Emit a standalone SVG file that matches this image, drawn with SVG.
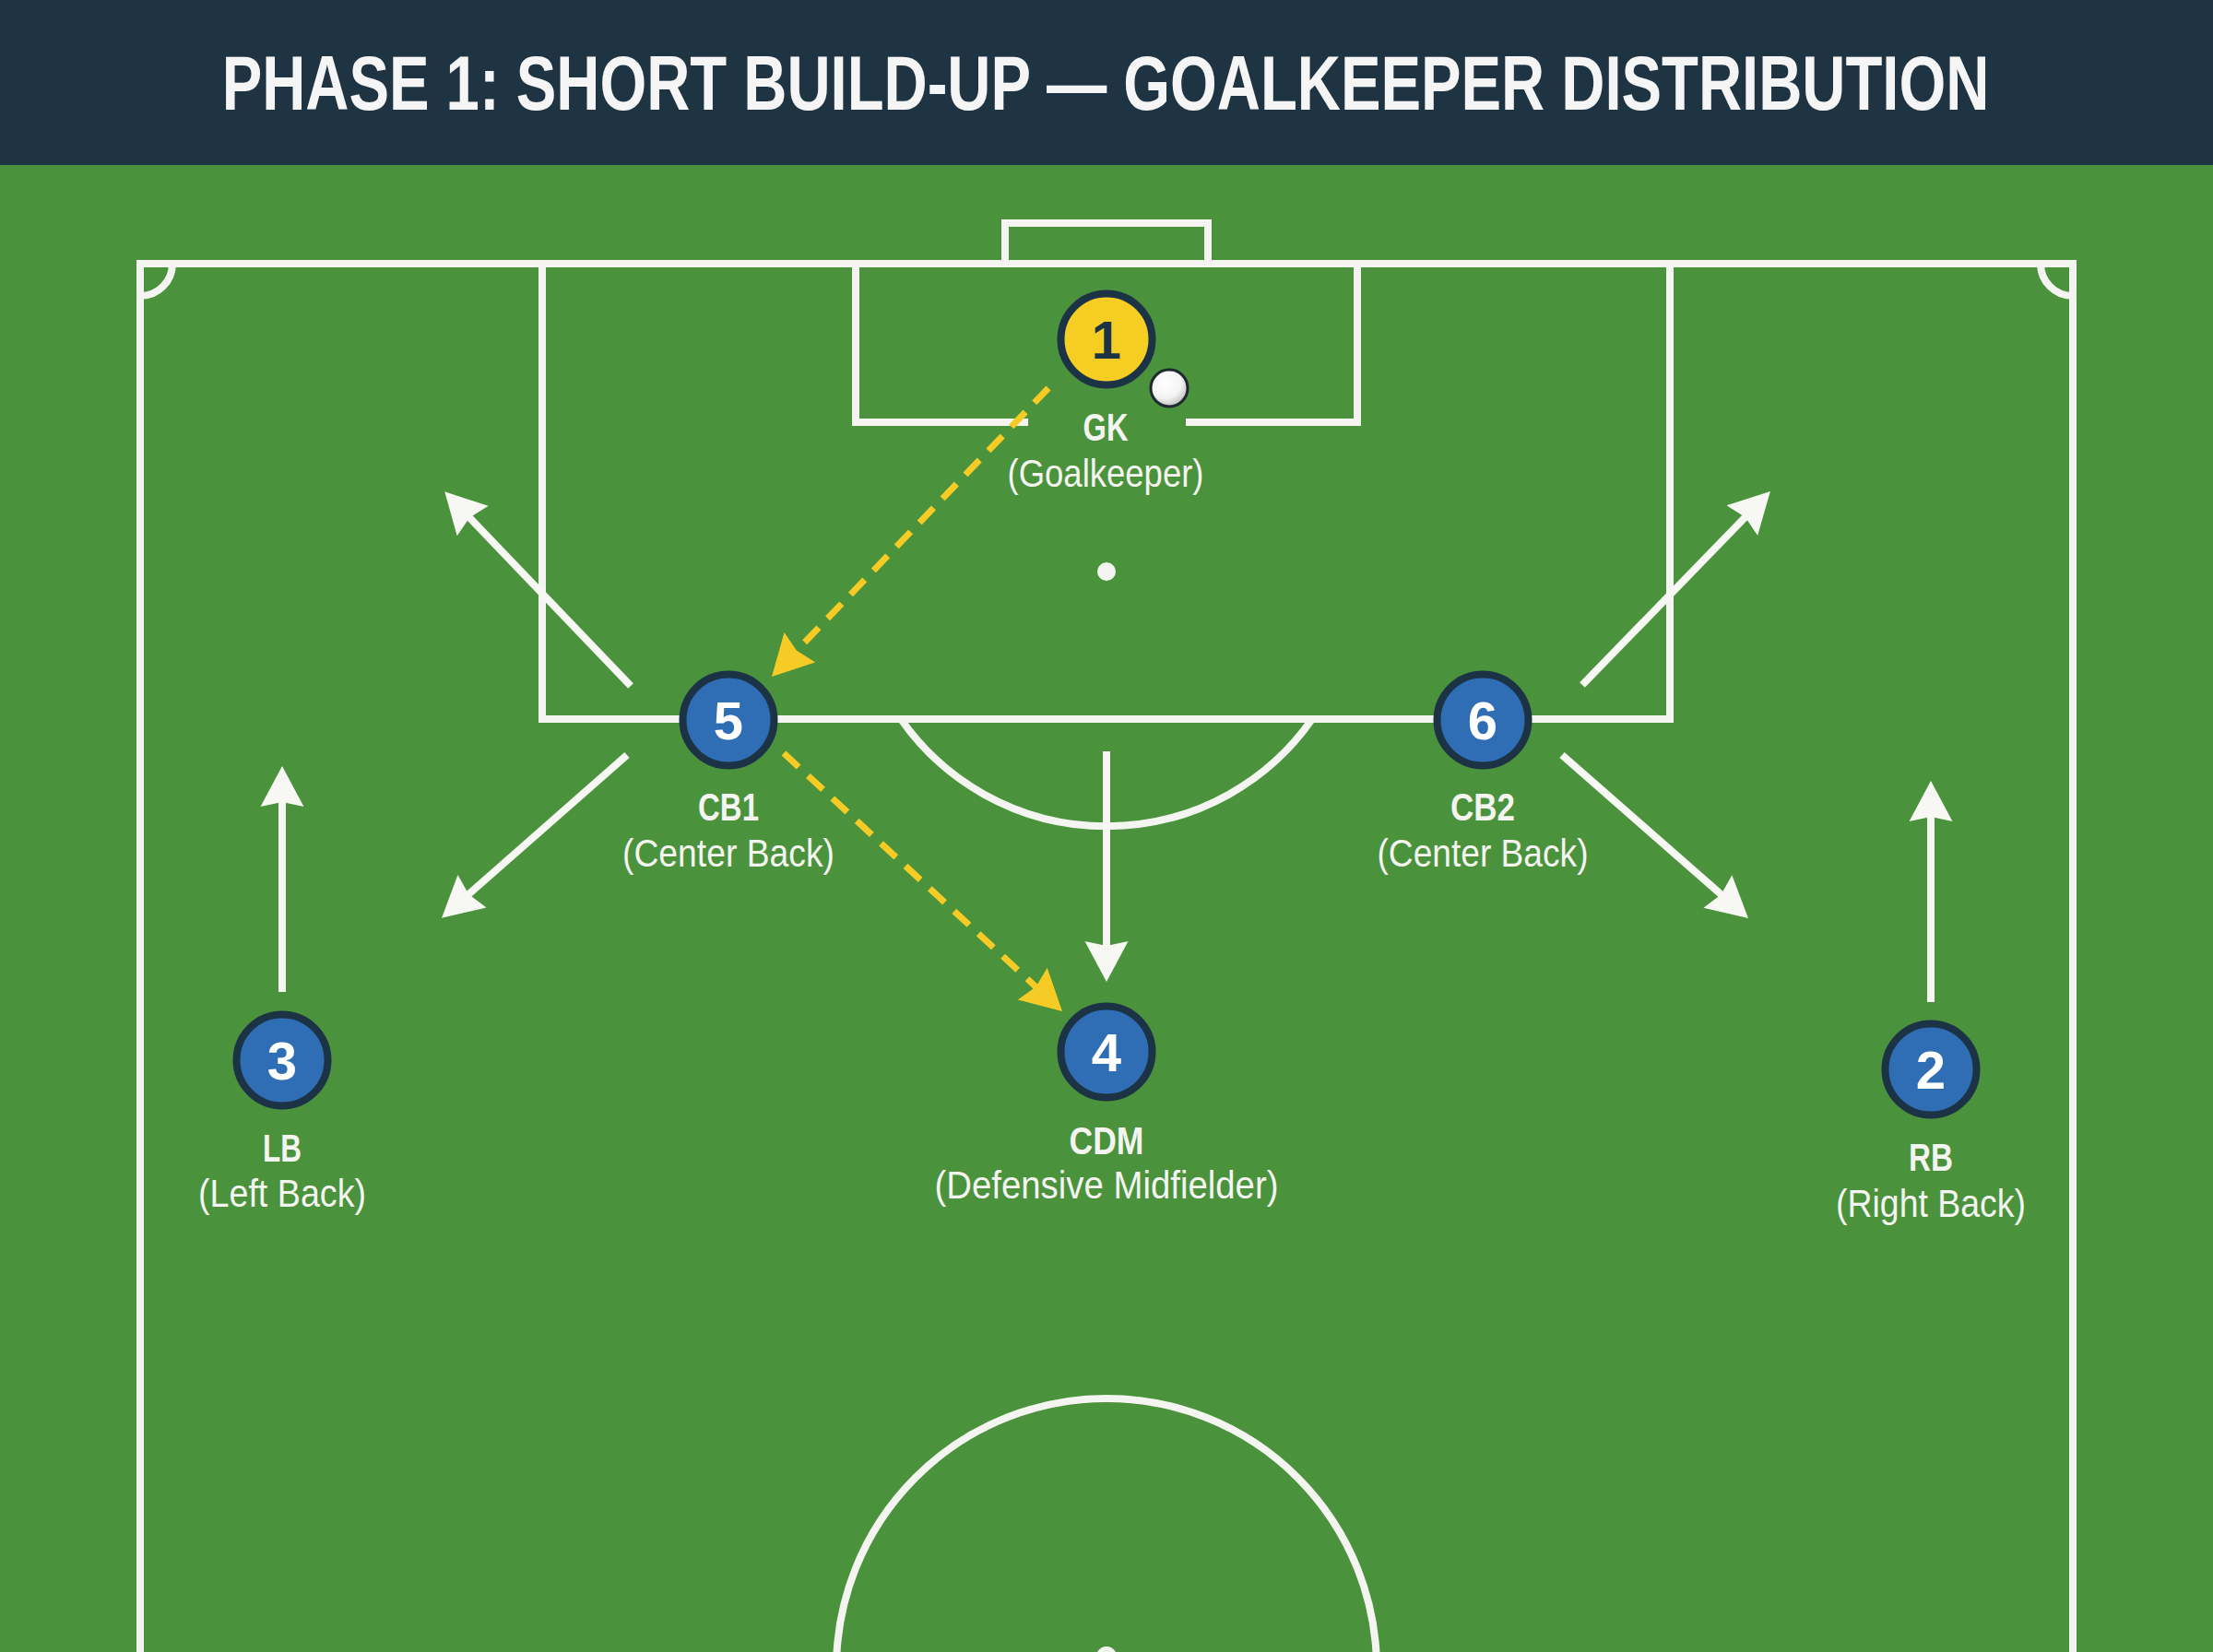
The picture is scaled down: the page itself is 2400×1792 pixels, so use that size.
<svg xmlns="http://www.w3.org/2000/svg" width="2400" height="1792" viewBox="0 0 2400 1792">
  <defs>
    <style>
      .line { fill: none; stroke: #f4f5f0; stroke-width: 8; }
      .move { fill: none; stroke: #f7f7f4; stroke-width: 8; marker-end: url(#headW); }
      .pass { fill: none; stroke: #f6cb25; stroke-width: 7; stroke-dasharray: 22 14; marker-end: url(#headY); }
      .player { fill: #2f6db4; stroke: #1c3346; stroke-width: 8; }
      .keeper { fill: #f6cd22; stroke: #1c3346; stroke-width: 8; }
      .num { font-family: "Liberation Sans", Arial, sans-serif; font-weight: bold; font-size: 58px; text-anchor: middle; fill: #ffffff; }
      .numk { fill: #1c3346; }
      .role { font-family: "Liberation Sans Narrow", "Liberation Sans", Arial, sans-serif; font-weight: bold; font-size: 42px; text-anchor: middle; fill: #f4f4f0; }
      .desc { font-family: "Liberation Sans Narrow", "Liberation Sans", Arial, sans-serif; font-size: 42px; text-anchor: middle; fill: #f4f4f0; }
      .title { font-family: "Liberation Sans", Arial, sans-serif; font-weight: bold; font-size: 84px; text-anchor: middle; fill: #f5f5f5; }
    </style>
    <marker id="headW" markerUnits="userSpaceOnUse" markerWidth="44" markerHeight="48" refX="14" refY="23.5" orient="auto" viewBox="0 0 44 47">
      <path d="M0,0 L44,23.5 L0,47 L5,23.5 Z" fill="#f7f7f4"/>
    </marker>
    <marker id="headY" markerUnits="userSpaceOnUse" markerWidth="44" markerHeight="48" refX="14" refY="23.5" orient="auto" viewBox="0 0 44 47">
      <path d="M0,0 L44,23.5 L0,47 L5,23.5 Z" fill="#f6cb25"/>
    </marker>
    <radialGradient id="ballG" cx="0.4" cy="0.35" r="0.7">
      <stop offset="0" stop-color="#ffffff"/>
      <stop offset="0.6" stop-color="#f4f4f4"/>
      <stop offset="1" stop-color="#b9b9b9"/>
    </radialGradient>
  </defs>

  <!-- background -->
  <rect x="0" y="0" width="2400" height="1792" fill="#4a923b"/>
  <g id="header">
    <rect x="0" y="0" width="2400" height="179" fill="#1e3442"/>
    <text class="title" transform="translate(1199,119) scale(0.777,1)" x="0" y="0">PHASE 1: SHORT BUILD-UP — GOALKEEPER DISTRIBUTION</text>
  </g>

  <!-- pitch markings -->
  <g id="pitch">
    <path class="line" d="M152,1800 L152,286 L2248,286 L2248,1800"/>
    <path class="line" d="M152,321 A35,35 0 0 0 187,286"/>
    <path class="line" d="M2213,286 A35,35 0 0 0 2248,321"/>
    <path class="line" d="M1090,286 L1090,242 L1310,242 L1310,286"/>
    <path class="line" d="M588,286 L588,780 L1811,780 L1811,286"/>
    <path class="line" d="M928,286 L928,458 L1115,458"/>
    <path class="line" d="M1286,458 L1472,458 L1472,286"/>
    <circle cx="1200" cy="620" r="10" fill="#f4f5f0"/>
    <path class="line" d="M977,780 A272,272 0 0 0 1423,780"/>
    <circle class="line" cx="1200" cy="1810" r="293"/>
    <circle cx="1200" cy="1797" r="11" fill="#f4f5f0"/>
  </g>

  <!-- connectors -->
  <g id="connectors">
    <line class="move" x1="684" y1="744" x2="503" y2="555"/>
    <line class="move" x1="680" y1="819" x2="501.5" y2="976"/>
    <line class="move" x1="306" y1="1076" x2="306" y2="861"/>
    <line class="move" x1="1200" y1="815" x2="1200" y2="1035"/>
    <line class="move" x1="1716" y1="743" x2="1899" y2="554.5"/>
    <line class="move" x1="1694" y1="819" x2="1873.4" y2="976.2"/>
    <line class="move" x1="2094" y1="1087" x2="2094" y2="877"/>
    <line class="pass" x1="1137" y1="421" x2="857.8" y2="712.3"/>
    <line class="pass" x1="850" y1="817" x2="1130" y2="1076.6"/>
  </g>

  <!-- nodes -->
  <g id="gk">
    <circle class="keeper" cx="1200" cy="368" r="49.5"/>
    <text class="num numk" x="1200" y="389">1</text>
    <text class="role" x="1199" y="478" textLength="49" lengthAdjust="spacingAndGlyphs">GK</text>
    <text class="desc" x="1199" y="528" textLength="213" lengthAdjust="spacingAndGlyphs">(Goalkeeper)</text>
  </g>
  <g id="ball">
    <circle cx="1268" cy="421" r="20" fill="url(#ballG)" stroke="#1e2a30" stroke-width="3"/>
  </g>
  <g id="cb1">
    <circle class="player" cx="790" cy="781" r="49.5"/>
    <text class="num" x="790" y="802">5</text>
    <text class="role" x="790" y="890" textLength="66" lengthAdjust="spacingAndGlyphs">CB1</text>
    <text class="desc" x="790" y="940" textLength="230" lengthAdjust="spacingAndGlyphs">(Center Back)</text>
  </g>
  <g id="cb2">
    <circle class="player" cx="1608" cy="781" r="49.5"/>
    <text class="num" x="1608" y="802">6</text>
    <text class="role" x="1608" y="890" textLength="70" lengthAdjust="spacingAndGlyphs">CB2</text>
    <text class="desc" x="1608" y="940" textLength="229" lengthAdjust="spacingAndGlyphs">(Center Back)</text>
  </g>
  <g id="lb">
    <circle class="player" cx="306" cy="1150" r="49.5"/>
    <text class="num" x="306" y="1171">3</text>
    <text class="role" x="306" y="1260" textLength="42" lengthAdjust="spacingAndGlyphs">LB</text>
    <text class="desc" x="306" y="1309" textLength="182" lengthAdjust="spacingAndGlyphs">(Left Back)</text>
  </g>
  <g id="cdm">
    <circle class="player" cx="1200" cy="1141" r="49.5"/>
    <text class="num" x="1200" y="1162">4</text>
    <text class="role" x="1200" y="1252" textLength="81" lengthAdjust="spacingAndGlyphs">CDM</text>
    <text class="desc" x="1200" y="1300" textLength="373" lengthAdjust="spacingAndGlyphs">(Defensive Midfielder)</text>
  </g>
  <g id="rb">
    <circle class="player" cx="2094" cy="1160" r="49.5"/>
    <text class="num" x="2094" y="1181">2</text>
    <text class="role" x="2094" y="1270" textLength="48" lengthAdjust="spacingAndGlyphs">RB</text>
    <text class="desc" x="2094" y="1320" textLength="206" lengthAdjust="spacingAndGlyphs">(Right Back)</text>
  </g>
</svg>
